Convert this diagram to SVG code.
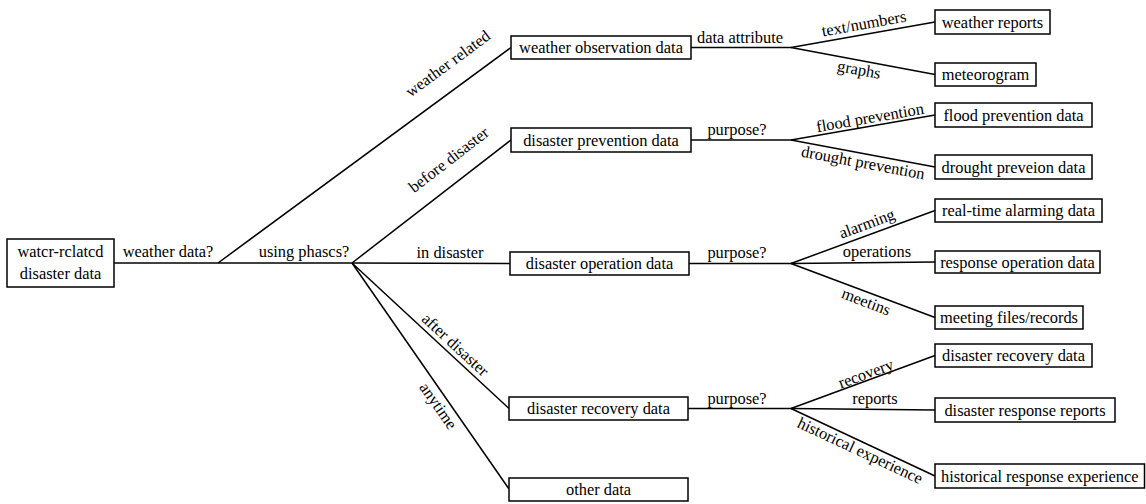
<svg xmlns="http://www.w3.org/2000/svg" width="1146" height="504" viewBox="0 0 1146 504">
<style>
.box{fill:#fff;stroke:#000;stroke-width:1.5}
text{font-family:'Liberation Serif','Times New Roman','DejaVu Serif',serif;font-size:16.4px;fill:#000;text-anchor:middle}
.c line{stroke:#000;stroke-width:1.5;fill:none}
</style>
<rect width="1146" height="504" fill="#fff"/>
<g class="c" id="connectors">
<line x1="114" y1="263" x2="352" y2="263"/>
<line x1="218" y1="263" x2="511" y2="47.5"/>
<line x1="352" y1="263" x2="511" y2="140"/>
<line x1="352" y1="263" x2="510" y2="263.5"/>
<line x1="352" y1="263" x2="509" y2="408.5"/>
<line x1="352" y1="263" x2="509" y2="489"/>
<line x1="691" y1="47.5" x2="791" y2="47.5"/>
<line x1="791" y1="47.5" x2="935" y2="22"/>
<line x1="791" y1="47.5" x2="935" y2="74.5"/>
<line x1="691" y1="140" x2="791" y2="140"/>
<line x1="791" y1="140" x2="935" y2="115"/>
<line x1="791" y1="140" x2="935" y2="167"/>
<line x1="689" y1="263.5" x2="791" y2="263.5"/>
<line x1="791" y1="263.5" x2="935" y2="210.5"/>
<line x1="791" y1="263.5" x2="935" y2="262"/>
<line x1="791" y1="263.5" x2="935" y2="317.5"/>
<line x1="688" y1="408.5" x2="791" y2="408.5"/>
<line x1="791" y1="408.5" x2="935" y2="355.5"/>
<line x1="791" y1="408.5" x2="935" y2="410"/>
<line x1="791" y1="408.5" x2="935" y2="476"/>
</g>
<g id="edge-labels">
<text x="168" y="257">weather data?</text>
<text x="304" y="257">using phascs?</text>
<text x="450" y="258">in disaster</text>
<text transform="translate(448,64) rotate(-36.3)" y="5">weather related</text>
<text transform="translate(449,160) rotate(-37.7)" y="5">before disaster</text>
<text transform="translate(455,345) rotate(42.7)" y="5">after disaster</text>
<text transform="translate(438,406) rotate(55.2)" y="5">anytime</text>
<text x="740" y="43">data attribute</text>
<text x="737" y="135">purpose?</text>
<text x="737" y="258">purpose?</text>
<text x="737" y="404">purpose?</text>
<text transform="translate(864,24) rotate(-10.2)" y="5">text/numbers</text>
<text transform="translate(859,70) rotate(10.2)" y="5">graphs</text>
<text transform="translate(870,118) rotate(-9.8)" y="5">flood prevention</text>
<text transform="translate(863,163) rotate(10.6)" y="5">drought prevention</text>
<text transform="translate(867,224) rotate(-20.2)" y="5">alarming</text>
<text x="877" y="257">operations</text>
<text transform="translate(866,302) rotate(20.9)" y="5">meetins</text>
<text transform="translate(866,374) rotate(-20.2)" y="5">recovery</text>
<text x="875" y="404">reports</text>
<text transform="translate(860,451) rotate(25)" y="5">historical experience</text>
</g>
<g id="root"><rect class="box" x="7" y="239" width="107" height="48"/><text x="60.5" y="257">watcr-rclatcd</text><text x="60.5" y="279">disaster data</text></g>
<g id="weather-obs"><rect class="box" x="511" y="36" width="180" height="23"/><text x="601" y="53">weather observation data</text></g>
<g id="disaster-prev"><rect class="box" x="511" y="128" width="180" height="24"/><text x="601" y="145.5">disaster prevention data</text></g>
<g id="disaster-op"><rect class="box" x="510" y="252" width="179" height="23"/><text x="599.5" y="269">disaster operation data</text></g>
<g id="disaster-rec"><rect class="box" x="509" y="397" width="179" height="23"/><text x="598.5" y="414">disaster recovery data</text></g>
<g id="other"><rect class="box" x="509" y="478" width="179" height="23"/><text x="598.5" y="495">other data</text></g>
<g id="weather-reports"><rect class="box" x="935" y="10" width="115" height="24"/><text x="992.5" y="27.5">weather reports</text></g>
<g id="meteorogram"><rect class="box" x="935" y="63" width="101" height="23"/><text x="985.5" y="80">meteorogram</text></g>
<g id="flood"><rect class="box" x="935" y="103" width="157" height="24"/><text x="1013.5" y="120.5">flood prevention data</text></g>
<g id="drought"><rect class="box" x="935" y="155" width="157" height="24"/><text x="1013.5" y="172.5">drought preveion data</text></g>
<g id="realtime"><rect class="box" x="935" y="199" width="167" height="23"/><text x="1018.5" y="216">real-time alarming data</text></g>
<g id="response-op"><rect class="box" x="935" y="251" width="165" height="22"/><text x="1017.5" y="267.5">response operation data</text></g>
<g id="meeting"><rect class="box" x="935" y="306" width="148" height="23"/><text x="1009" y="323">meeting files/records</text></g>
<g id="recovery-data"><rect class="box" x="935" y="344" width="157" height="23"/><text x="1013.5" y="361">disaster recovery data</text></g>
<g id="response-reports"><rect class="box" x="935" y="398" width="180" height="24"/><text x="1025" y="415.5">disaster response reports</text></g>
<g id="historical"><rect class="box" x="935" y="464" width="209.5" height="24"/><text x="1039.75" y="481.5">historical response experience</text></g>
</svg>
